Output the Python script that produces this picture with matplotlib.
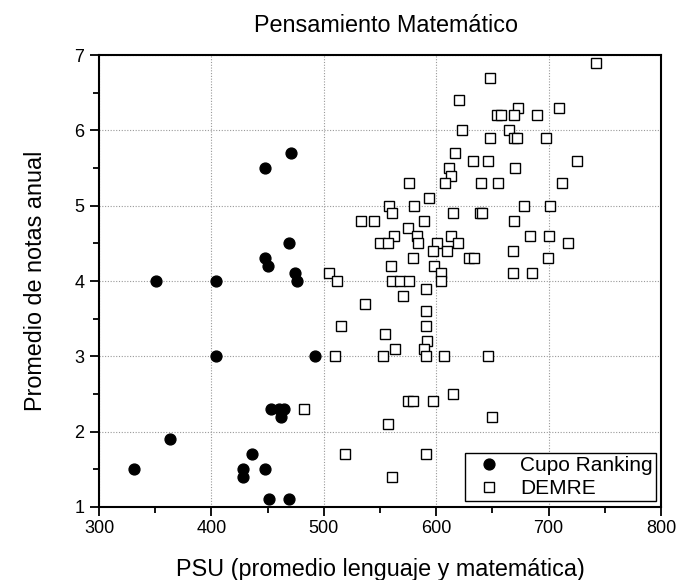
import matplotlib
matplotlib.use("Agg")
from matplotlib import pyplot as plt
from matplotlib.ticker import MultipleLocator

plt.rcParams["font.family"] = ["Liberation Sans", "DejaVu Sans"]

# Cupo Ranking (filled circles)
ranking_psu = [471, 448, 469, 448, 450, 474, 476, 351, 404,
               404, 492, 453, 460, 465, 462, 363, 331, 436,
               428, 428, 448, 451, 469]
ranking_nota = [5.7, 5.5, 4.5, 4.3, 4.2, 4.1, 4.0, 4.0, 4.0,
                3.0, 3.0, 2.3, 2.3, 2.3, 2.2, 1.9, 1.5, 1.7,
                1.5, 1.4, 1.5, 1.1, 1.1]

# DEMRE (open squares)
demre_psu = [742, 648, 620, 673, 709, 654, 658, 669, 690, 623, 665,
             648, 669, 672, 698, 617, 633, 646, 725, 670, 611, 613,
             608, 576, 640, 655, 712, 594, 558, 580, 678, 701, 561,
             615, 639, 641, 533, 545, 589, 669, 575, 562, 583, 613,
             683, 700, 550, 557, 584, 601, 619, 717, 597, 610, 668,
             579, 629, 634, 699, 560, 598, 505, 604, 668, 685, 512,
             561, 568, 576, 604, 591, 570, 537, 591, 515, 591, 554,
             592, 563, 589, 510, 553, 591, 607, 646, 615, 575, 579,
             597, 650, 557, 519, 591, 561, 482]
demre_nota = [6.9, 6.7, 6.4, 6.3, 6.3, 6.2, 6.2, 6.2, 6.2, 6.0, 6.0,
              5.9, 5.9, 5.9, 5.9, 5.7, 5.6, 5.6, 5.6, 5.5, 5.5, 5.4,
              5.3, 5.3, 5.3, 5.3, 5.3, 5.1, 5.0, 5.0, 5.0, 5.0, 4.9,
              4.9, 4.9, 4.9, 4.8, 4.8, 4.8, 4.8, 4.7, 4.6, 4.6, 4.6,
              4.6, 4.6, 4.5, 4.5, 4.5, 4.5, 4.5, 4.5, 4.4, 4.4, 4.4,
              4.3, 4.3, 4.3, 4.3, 4.2, 4.2, 4.1, 4.1, 4.1, 4.1, 4.0,
              4.0, 4.0, 4.0, 4.0, 3.9, 3.8, 3.7, 3.6, 3.4, 3.4, 3.3,
              3.2, 3.1, 3.1, 3.0, 3.0, 3.0, 3.0, 3.0, 2.5, 2.4, 2.4,
              2.4, 2.2, 2.1, 1.7, 1.7, 1.4, 2.3]

fig = plt.figure(figsize=(6.78, 5.8), dpi=100)
ax = fig.add_axes([0.146, 0.126, 0.829, 0.779])

ax.plot(ranking_psu, ranking_nota, "o", color="black", markersize=7.8,
        label="Cupo Ranking", zorder=3)
ax.plot(demre_psu, demre_nota, "s", markerfacecolor="white",
        markeredgecolor="black", markeredgewidth=1.0, markersize=6.5,
        label="DEMRE", zorder=3)

ax.set_xlim(300, 800)
ax.set_ylim(1, 7)
ax.xaxis.set_major_locator(MultipleLocator(100))
ax.xaxis.set_minor_locator(MultipleLocator(50))
ax.yaxis.set_major_locator(MultipleLocator(1))
ax.yaxis.set_minor_locator(MultipleLocator(0.5))

ax.grid(True, which="major", linestyle=(0, (1, 1.5)), color="#999999",
        linewidth=0.8)
ax.set_axisbelow(True)

for s in ax.spines.values():
    s.set_linewidth(1.5)
ax.tick_params(which="major", direction="out", length=6.5, width=1.3,
               labelsize=13, top=False, right=False)
ax.tick_params(which="minor", direction="out", length=4, width=1.3,
               top=False, right=False)
ax.tick_params(axis="x", which="major", pad=3)
ax.tick_params(axis="y", which="major", pad=4)

ax.set_title("Pensamiento Matemático", fontsize=16.8, pad=16.5, x=0.51)
ax.set_xlabel("PSU (promedio lenguaje y matemática)", fontsize=16.8,
              labelpad=15)
ax.set_ylabel("Promedio de notas anual", fontsize=16.8, labelpad=20)

leg = ax.legend(loc="lower right", bbox_to_anchor=(0.9906, 0.0126),
                borderaxespad=0, fancybox=False, edgecolor="black",
                framealpha=1, fontsize=15, handletextpad=0.5,
                borderpad=0.15, labelspacing=0.2)
leg.get_frame().set_linewidth(1.0)

fig.savefig("out.png", dpi=100)
